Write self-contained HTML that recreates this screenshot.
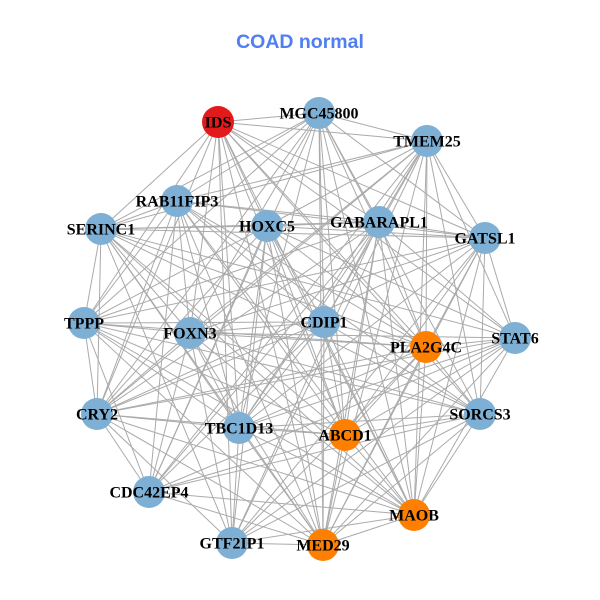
<!DOCTYPE html>
<html><head><meta charset="utf-8"><style>
html,body{margin:0;padding:0;background:#fff;}
svg{display:block;}
.l{font-family:"Liberation Serif",serif;font-weight:bold;font-size:16px;fill:#000;text-anchor:middle;dominant-baseline:central;}
</style></head><body>
<svg id="s" width="600" height="600" viewBox="0 0 600 600">
<text x="300" y="48" text-anchor="middle" font-family="Liberation Sans,sans-serif" font-weight="bold" font-size="19.5" fill="#4f7ff0">COAD normal</text>
<g id="e" stroke="#aaaaaa" stroke-width="1"></g>
<g id="n"></g>
<g>
<text class="l" x="218" y="123">IDS</text>
<text class="l" x="319" y="114">MGC45800</text>
<text class="l" x="427" y="142">TMEM25</text>
<text class="l" x="177" y="202">RAB11FIP3</text>
<text class="l" x="101" y="230">SERINC1</text>
<text class="l" x="267" y="227">HOXC5</text>
<text class="l" x="379" y="223">GABARAPL1</text>
<text class="l" x="485" y="239">GATSL1</text>
<text class="l" x="84" y="324">TPPP</text>
<text class="l" x="190" y="334">FOXN3</text>
<text class="l" x="324" y="323">CDIP1</text>
<text class="l" x="426" y="348">PLA2G4C</text>
<text class="l" x="515" y="339">STAT6</text>
<text class="l" x="97" y="415">CRY2</text>
<text class="l" x="239" y="429">TBC1D13</text>
<text class="l" x="345" y="436">ABCD1</text>
<text class="l" x="480" y="415">SORCS3</text>
<text class="l" x="149" y="493">CDC42EP4</text>
<text class="l" x="414" y="516">MAOB</text>
<text class="l" x="232" y="544">GTF2IP1</text>
<text class="l" x="323" y="546">MED29</text>
</g>
</svg>
<script>
var N=[[218,122,'#e31a1c'],[319,113],[427,141],[177,201],[101,229],[267,226],[379,222],[485,238],[84,323],[190,333],[324,322],[426,347,'#ff7f00'],[515,338],[97,414],[239,428],[345,435,'#ff7f00'],[480,414],[149,492],[414,515,'#ff7f00'],[232,543],[323,545,'#ff7f00']];
var ns="http://www.w3.org/2000/svg",e=document.getElementById('e'),g=document.getElementById('n');
var k=0;
for(var i=0;i<N.length;i++)for(var j=i+1;j<N.length;j++){k++;if(k%7==3)continue;
var l=document.createElementNS(ns,'line');l.setAttribute('x1',N[i][0]);l.setAttribute('y1',N[i][1]);l.setAttribute('x2',N[j][0]);l.setAttribute('y2',N[j][1]);e.appendChild(l);}
N.forEach(function(p){var c=document.createElementNS(ns,'circle');c.setAttribute('cx',p[0]);c.setAttribute('cy',p[1]);c.setAttribute('r',16);c.setAttribute('fill',p[2]||'#7eb0d5');g.appendChild(c);});
</script>
</body></html>
